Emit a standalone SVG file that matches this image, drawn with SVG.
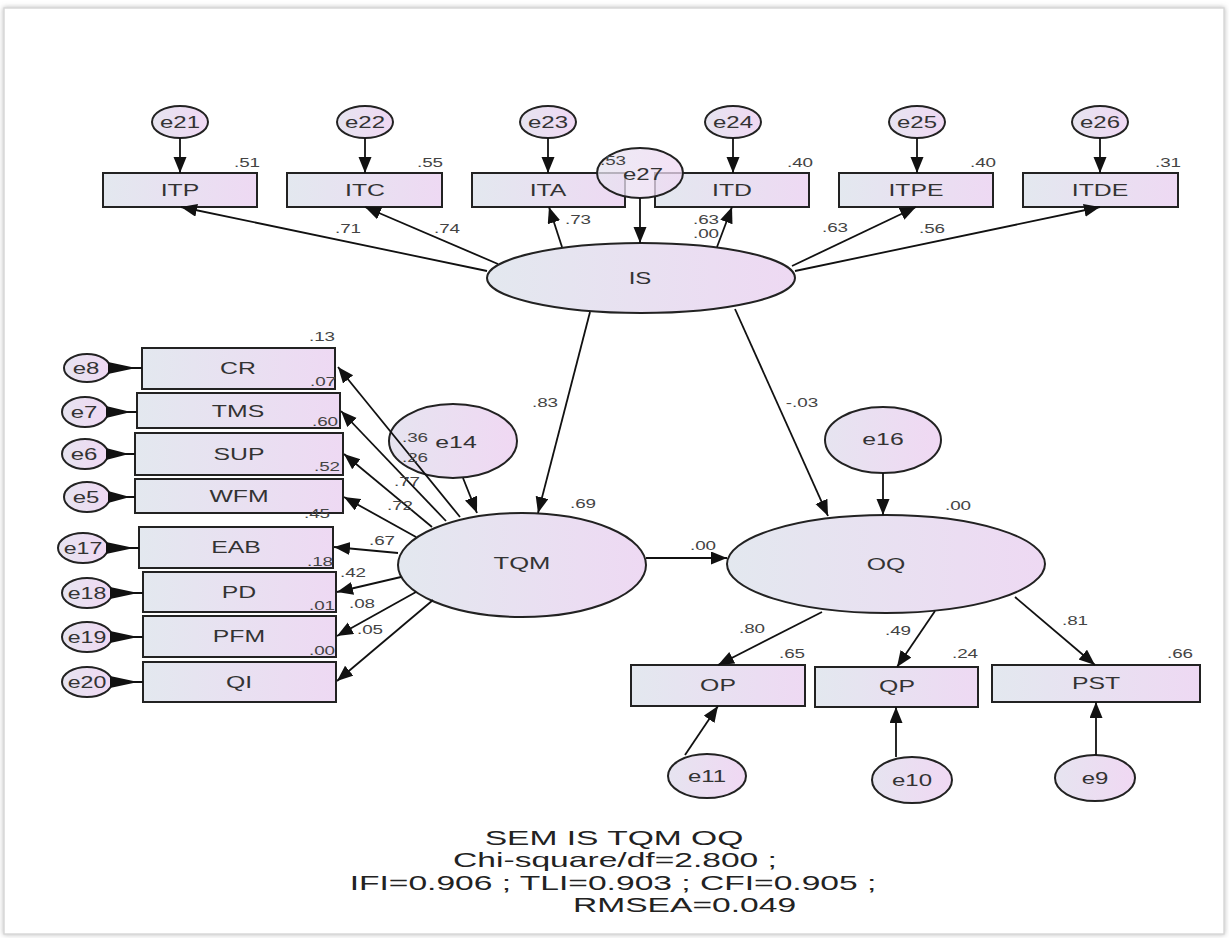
<svg xmlns="http://www.w3.org/2000/svg" width="1229" height="938" viewBox="0 0 1229 938">
<defs>
<linearGradient id="g" x1="0" y1="0" x2="1" y2="0">
<stop offset="0" stop-color="#e3e8ef"/>
<stop offset="1" stop-color="#eed9f3"/>
</linearGradient>
<linearGradient id="ge" x1="0" y1="0" x2="1" y2="0">
<stop offset="0" stop-color="#e6e4f0"/>
<stop offset="1" stop-color="#f0d8f3"/>
</linearGradient>
<marker id="ah" markerUnits="userSpaceOnUse" markerWidth="18" markerHeight="14" refX="16" refY="6.5" orient="auto">
<path d="M0,0 L16,6.5 L0,13 z" fill="#111"/>
</marker>
<filter id="sh" x="-2%" y="-2%" width="104%" height="104%">
<feDropShadow dx="0" dy="0" stdDeviation="2.5" flood-color="#888" flood-opacity="0.6"/>
</filter>
</defs>
<style>
.bx{fill:url(#g);stroke:#222;stroke-width:2}
.el{fill:url(#g);stroke:#222;stroke-width:2}
.er{fill:url(#ge);stroke:#222;stroke-width:2}
.c line{stroke:#111;stroke-width:1.8;marker-end:url(#ah)}
.c .w{fill:#111}
.c .wl{stroke:#111;stroke-width:2;marker-end:none}
text{font-family:"Liberation Sans",Arial,sans-serif;fill:#333}
.lb{font-size:16px;text-anchor:middle}
.n{font-size:13px;text-anchor:middle;fill:#444}
.t{font-size:21px;text-anchor:middle;fill:#222}
</style>
<rect x="0" y="0" width="1229" height="938" fill="#fff"/>
<rect x="4" y="8" width="1220" height="926" fill="#fff" stroke="#d8d8d8" stroke-width="1.5" filter="url(#sh)"/>

<!-- top indicators -->
<g id="ITP"><rect class="bx" x="103" y="173" width="154" height="34"/><text class="lb" transform="translate(180 196) scale(1.55 1)">ITP</text></g>
<g id="ITC"><rect class="bx" x="287" y="173" width="155" height="34"/><text class="lb" transform="translate(365 196) scale(1.55 1)">ITC</text></g>
<g id="ITA"><rect class="bx" x="472" y="173" width="153" height="34"/><text class="lb" transform="translate(548 196) scale(1.55 1)">ITA</text></g>
<g id="ITD"><rect class="bx" x="655" y="173" width="154" height="34"/><text class="lb" transform="translate(732 196) scale(1.55 1)">ITD</text></g>
<g id="ITPE"><rect class="bx" x="839" y="173" width="154" height="34"/><text class="lb" transform="translate(916 196) scale(1.55 1)">ITPE</text></g>
<g id="ITDE"><rect class="bx" x="1023" y="173" width="155" height="34"/><text class="lb" transform="translate(1100 196) scale(1.55 1)">ITDE</text></g>

<g id="e21"><ellipse class="er" cx="180" cy="122" rx="28" ry="16"/><text class="lb" transform="translate(180 128) scale(1.5 1)">e21</text></g>
<g id="e22"><ellipse class="er" cx="365" cy="122" rx="28" ry="16"/><text class="lb" transform="translate(365 128) scale(1.5 1)">e22</text></g>
<g id="e23"><ellipse class="er" cx="548" cy="122" rx="28" ry="16"/><text class="lb" transform="translate(548 128) scale(1.5 1)">e23</text></g>
<g id="e24"><ellipse class="er" cx="733" cy="122" rx="28" ry="16"/><text class="lb" transform="translate(733 128) scale(1.5 1)">e24</text></g>
<g id="e25"><ellipse class="er" cx="917" cy="122" rx="28" ry="16"/><text class="lb" transform="translate(917 128) scale(1.5 1)">e25</text></g>
<g id="e26"><ellipse class="er" cx="1100" cy="122" rx="28" ry="16"/><text class="lb" transform="translate(1100 128) scale(1.5 1)">e26</text></g>

<g id="e27"><ellipse cx="640" cy="173" rx="43" ry="25" fill="url(#ge)" fill-opacity="0.75" stroke="#222" stroke-width="2"/><text class="lb" transform="translate(643 180) scale(1.5 1)">e27</text></g>

<g id="IS"><ellipse class="el" cx="641" cy="278" rx="154" ry="35"/><text class="lb" transform="translate(640 284) scale(1.5 1)">IS</text></g>

<!-- left indicators -->
<g id="CR"><rect class="bx" x="142" y="348" width="193" height="41"/><text class="lb" transform="translate(238 374) scale(1.55 1)">CR</text></g>
<g id="TMS"><rect class="bx" x="137" y="393" width="203" height="35"/><text class="lb" transform="translate(238 417) scale(1.55 1)">TMS</text></g>
<g id="SUP"><rect class="bx" x="135" y="433" width="208" height="42"/><text class="lb" transform="translate(239 460) scale(1.55 1)">SUP</text></g>
<g id="WFM"><rect class="bx" x="135" y="479" width="208" height="34"/><text class="lb" transform="translate(239 502) scale(1.55 1)">WFM</text></g>
<g id="EAB"><rect class="bx" x="139" y="527" width="194" height="41"/><text class="lb" transform="translate(236 553) scale(1.55 1)">EAB</text></g>
<g id="PD"><rect class="bx" x="143" y="572" width="193" height="40"/><text class="lb" transform="translate(239 598) scale(1.55 1)">PD</text></g>
<g id="PFM"><rect class="bx" x="143" y="616" width="193" height="41"/><text class="lb" transform="translate(239 642) scale(1.55 1)">PFM</text></g>
<g id="QI"><rect class="bx" x="143" y="662" width="193" height="40"/><text class="lb" transform="translate(239 688) scale(1.55 1)">QI</text></g>

<g id="e8"><ellipse class="er" cx="87" cy="368" rx="23" ry="14"/><text class="lb" transform="translate(86 374) scale(1.5 1)">e8</text></g>
<g id="e7"><ellipse class="er" cx="85" cy="412" rx="23" ry="15"/><text class="lb" transform="translate(84 418) scale(1.5 1)">e7</text></g>
<g id="e6"><ellipse class="er" cx="85" cy="454" rx="23" ry="15"/><text class="lb" transform="translate(84 460) scale(1.5 1)">e6</text></g>
<g id="e5"><ellipse class="er" cx="87" cy="497" rx="23" ry="15"/><text class="lb" transform="translate(86 503) scale(1.5 1)">e5</text></g>
<g id="e17"><ellipse class="er" cx="83" cy="548" rx="25" ry="15"/><text class="lb" transform="translate(83 554) scale(1.45 1)">e17</text></g>
<g id="e18"><ellipse class="er" cx="87" cy="593" rx="25" ry="15"/><text class="lb" transform="translate(87 599) scale(1.45 1)">e18</text></g>
<g id="e19"><ellipse class="er" cx="87" cy="637" rx="25" ry="15"/><text class="lb" transform="translate(87 643) scale(1.45 1)">e19</text></g>
<g id="e20"><ellipse class="er" cx="87" cy="682" rx="25" ry="15"/><text class="lb" transform="translate(87 688) scale(1.45 1)">e20</text></g>

<g id="TQM"><ellipse class="el" cx="522" cy="565" rx="124" ry="52"/><text class="lb" transform="translate(522 569) scale(1.6 1)">TQM</text></g>
<g id="e14"><ellipse class="er" cx="453" cy="441" rx="64" ry="37"/><text class="lb" transform="translate(456 448) scale(1.55 1)">e14</text></g>

<g id="OQ"><ellipse class="el" cx="886" cy="564" rx="159" ry="49"/><text class="lb" transform="translate(886 570) scale(1.55 1)">OQ</text></g>
<g id="e16"><ellipse class="er" cx="883" cy="440" rx="58" ry="33"/><text class="lb" transform="translate(883 445) scale(1.55 1)">e16</text></g>

<g id="OP"><rect class="bx" x="631" y="665" width="174" height="41"/><text class="lb" transform="translate(718 691) scale(1.55 1)">OP</text></g>
<g id="QP"><rect class="bx" x="815" y="667" width="163" height="40"/><text class="lb" transform="translate(897 692) scale(1.55 1)">QP</text></g>
<g id="PST"><rect class="bx" x="992" y="665" width="208" height="37"/><text class="lb" transform="translate(1096 689) scale(1.55 1)">PST</text></g>

<g id="e11"><ellipse class="er" cx="707" cy="776" rx="39" ry="22"/><text class="lb" transform="translate(707 782) scale(1.5 1)">e11</text></g>
<g id="e10"><ellipse class="er" cx="912" cy="780" rx="40" ry="23"/><text class="lb" transform="translate(912 786) scale(1.5 1)">e10</text></g>
<g id="e9"><ellipse class="er" cx="1095" cy="778" rx="40" ry="23"/><text class="lb" transform="translate(1095 784) scale(1.5 1)">e9</text></g>

<g id="connectors" class="c">
<line x1="180" y1="138" x2="180" y2="173"/>
<line x1="365" y1="138" x2="365" y2="173"/>
<line x1="548" y1="138" x2="548" y2="173"/>
<line x1="733" y1="138" x2="733" y2="173"/>
<line x1="917" y1="138" x2="917" y2="173"/>
<line x1="1100" y1="138" x2="1100" y2="173"/>
<line x1="640" y1="198" x2="640" y2="243"/>
<line x1="487" y1="271" x2="181" y2="207"/>
<line x1="498" y1="264" x2="365" y2="207"/>
<line x1="562" y1="247" x2="549" y2="207"/>
<line x1="717" y1="247" x2="732" y2="207"/>
<line x1="792" y1="266" x2="916" y2="207"/>
<line x1="795" y1="271" x2="1100" y2="207"/>
<line x1="590" y1="312" x2="538" y2="513"/>
<line x1="735" y1="309" x2="828" y2="516"/>
<line x1="463" y1="478" x2="477" y2="513"/>
<line x1="460" y1="517" x2="338" y2="367"/>
<line x1="446" y1="521" x2="341" y2="411"/>
<line x1="432" y1="527" x2="344" y2="454"/>
<line x1="416" y1="537" x2="344" y2="497"/>
<line x1="398" y1="553" x2="334" y2="547"/>
<line x1="401" y1="577" x2="337" y2="592"/>
<line x1="416" y1="592" x2="337" y2="636"/>
<line x1="433" y1="600" x2="337" y2="681"/>
<line x1="646" y1="558" x2="727" y2="558"/>
<line x1="883" y1="473" x2="883" y2="515"/>
<line x1="822" y1="612" x2="718" y2="665"/>
<line x1="935" y1="611" x2="897" y2="667"/>
<line x1="1015" y1="597" x2="1095" y2="665"/>
<line x1="685" y1="755" x2="718" y2="706"/>
<line x1="896" y1="757" x2="896" y2="707"/>
<line x1="1096" y1="755" x2="1096" y2="702"/>
<line class="wl" x1="108" y1="368" x2="142" y2="368"/>
<polygon class="w" points="108,362 108,374 136,368"/>
<line class="wl" x1="106" y1="412" x2="137" y2="412"/>
<polygon class="w" points="106,406 106,418 131,412"/>
<line class="wl" x1="106" y1="454" x2="135" y2="454"/>
<polygon class="w" points="106,448 106,460 129,454"/>
<line class="wl" x1="108" y1="497" x2="135" y2="497"/>
<polygon class="w" points="108,491 108,503 130,497"/>
<line class="wl" x1="106" y1="548" x2="139" y2="548"/>
<polygon class="w" points="106,542 106,554 134,548"/>
<line class="wl" x1="110" y1="593" x2="143" y2="593"/>
<polygon class="w" points="110,587 110,599 138,593"/>
<line class="wl" x1="110" y1="637" x2="143" y2="637"/>
<polygon class="w" points="110,631 110,643 138,637"/>
<line class="wl" x1="110" y1="682" x2="143" y2="682"/>
<polygon class="w" points="110,676 110,688 138,682"/>
</g>

<g id="estimates">
<text class="n" transform="translate(247 167) scale(1.45 1)">.51</text>
<text class="n" transform="translate(430 167) scale(1.45 1)">.55</text>
<text class="n" transform="translate(613 165) scale(1.45 1)">.53</text>
<text class="n" transform="translate(800 167) scale(1.45 1)">.40</text>
<text class="n" transform="translate(983 167) scale(1.45 1)">.40</text>
<text class="n" transform="translate(1168 167) scale(1.45 1)">.31</text>
<text class="n" transform="translate(348 233) scale(1.45 1)">.71</text>
<text class="n" transform="translate(447 233) scale(1.45 1)">.74</text>
<text class="n" transform="translate(578 224) scale(1.45 1)">.73</text>
<text class="n" transform="translate(706 224) scale(1.45 1)">.63</text>
<text class="n" transform="translate(706 238) scale(1.45 1)">.00</text>
<text class="n" transform="translate(835 232) scale(1.45 1)">.63</text>
<text class="n" transform="translate(932 233) scale(1.45 1)">.56</text>
<text class="n" transform="translate(545 407) scale(1.45 1)">.83</text>
<text class="n" transform="translate(802 407) scale(1.45 1)">-.03</text>
<text class="n" transform="translate(415 442) scale(1.45 1)">.36</text>
<text class="n" transform="translate(415 462) scale(1.45 1)">.26</text>
<text class="n" transform="translate(407 486) scale(1.45 1)">.77</text>
<text class="n" transform="translate(400 510) scale(1.45 1)">.72</text>
<text class="n" transform="translate(382 545) scale(1.45 1)">.67</text>
<text class="n" transform="translate(583 508) scale(1.45 1)">.69</text>
<text class="n" transform="translate(353 577) scale(1.45 1)">.42</text>
<text class="n" transform="translate(362 608) scale(1.45 1)">.08</text>
<text class="n" transform="translate(370 634) scale(1.45 1)">.05</text>
<text class="n" transform="translate(322 341) scale(1.45 1)">.13</text>
<text class="n" transform="translate(323 386) scale(1.45 1)">.07</text>
<text class="n" transform="translate(325 426) scale(1.45 1)">.60</text>
<text class="n" transform="translate(327 471) scale(1.45 1)">.52</text>
<text class="n" transform="translate(317 518) scale(1.45 1)">.45</text>
<text class="n" transform="translate(320 566) scale(1.45 1)">.18</text>
<text class="n" transform="translate(322 610) scale(1.45 1)">.01</text>
<text class="n" transform="translate(322 655) scale(1.45 1)">.00</text>
<text class="n" transform="translate(703 550) scale(1.45 1)">.00</text>
<text class="n" transform="translate(958 510) scale(1.45 1)">.00</text>
<text class="n" transform="translate(752 633) scale(1.45 1)">.80</text>
<text class="n" transform="translate(898 635) scale(1.45 1)">.49</text>
<text class="n" transform="translate(792 658) scale(1.45 1)">.65</text>
<text class="n" transform="translate(965 658) scale(1.45 1)">.24</text>
<text class="n" transform="translate(1075 625) scale(1.45 1)">.81</text>
<text class="n" transform="translate(1180 658) scale(1.45 1)">.66</text>
</g>

<g id="caption">
<text class="t" transform="translate(614 845) scale(1.6 1)">SEM IS TQM OQ</text>
<text class="t" transform="translate(615 867) scale(1.6 1)">Chi-square/df=2.800 ;</text>
<text class="t" transform="translate(613 890) scale(1.6 1)">IFI=0.906 ; TLI=0.903 ; CFI=0.905 ;</text>
<text class="t" transform="translate(573 912) scale(1.6 1)" style="text-anchor:start">RMSEA=0.049</text>
</g>
</svg>
